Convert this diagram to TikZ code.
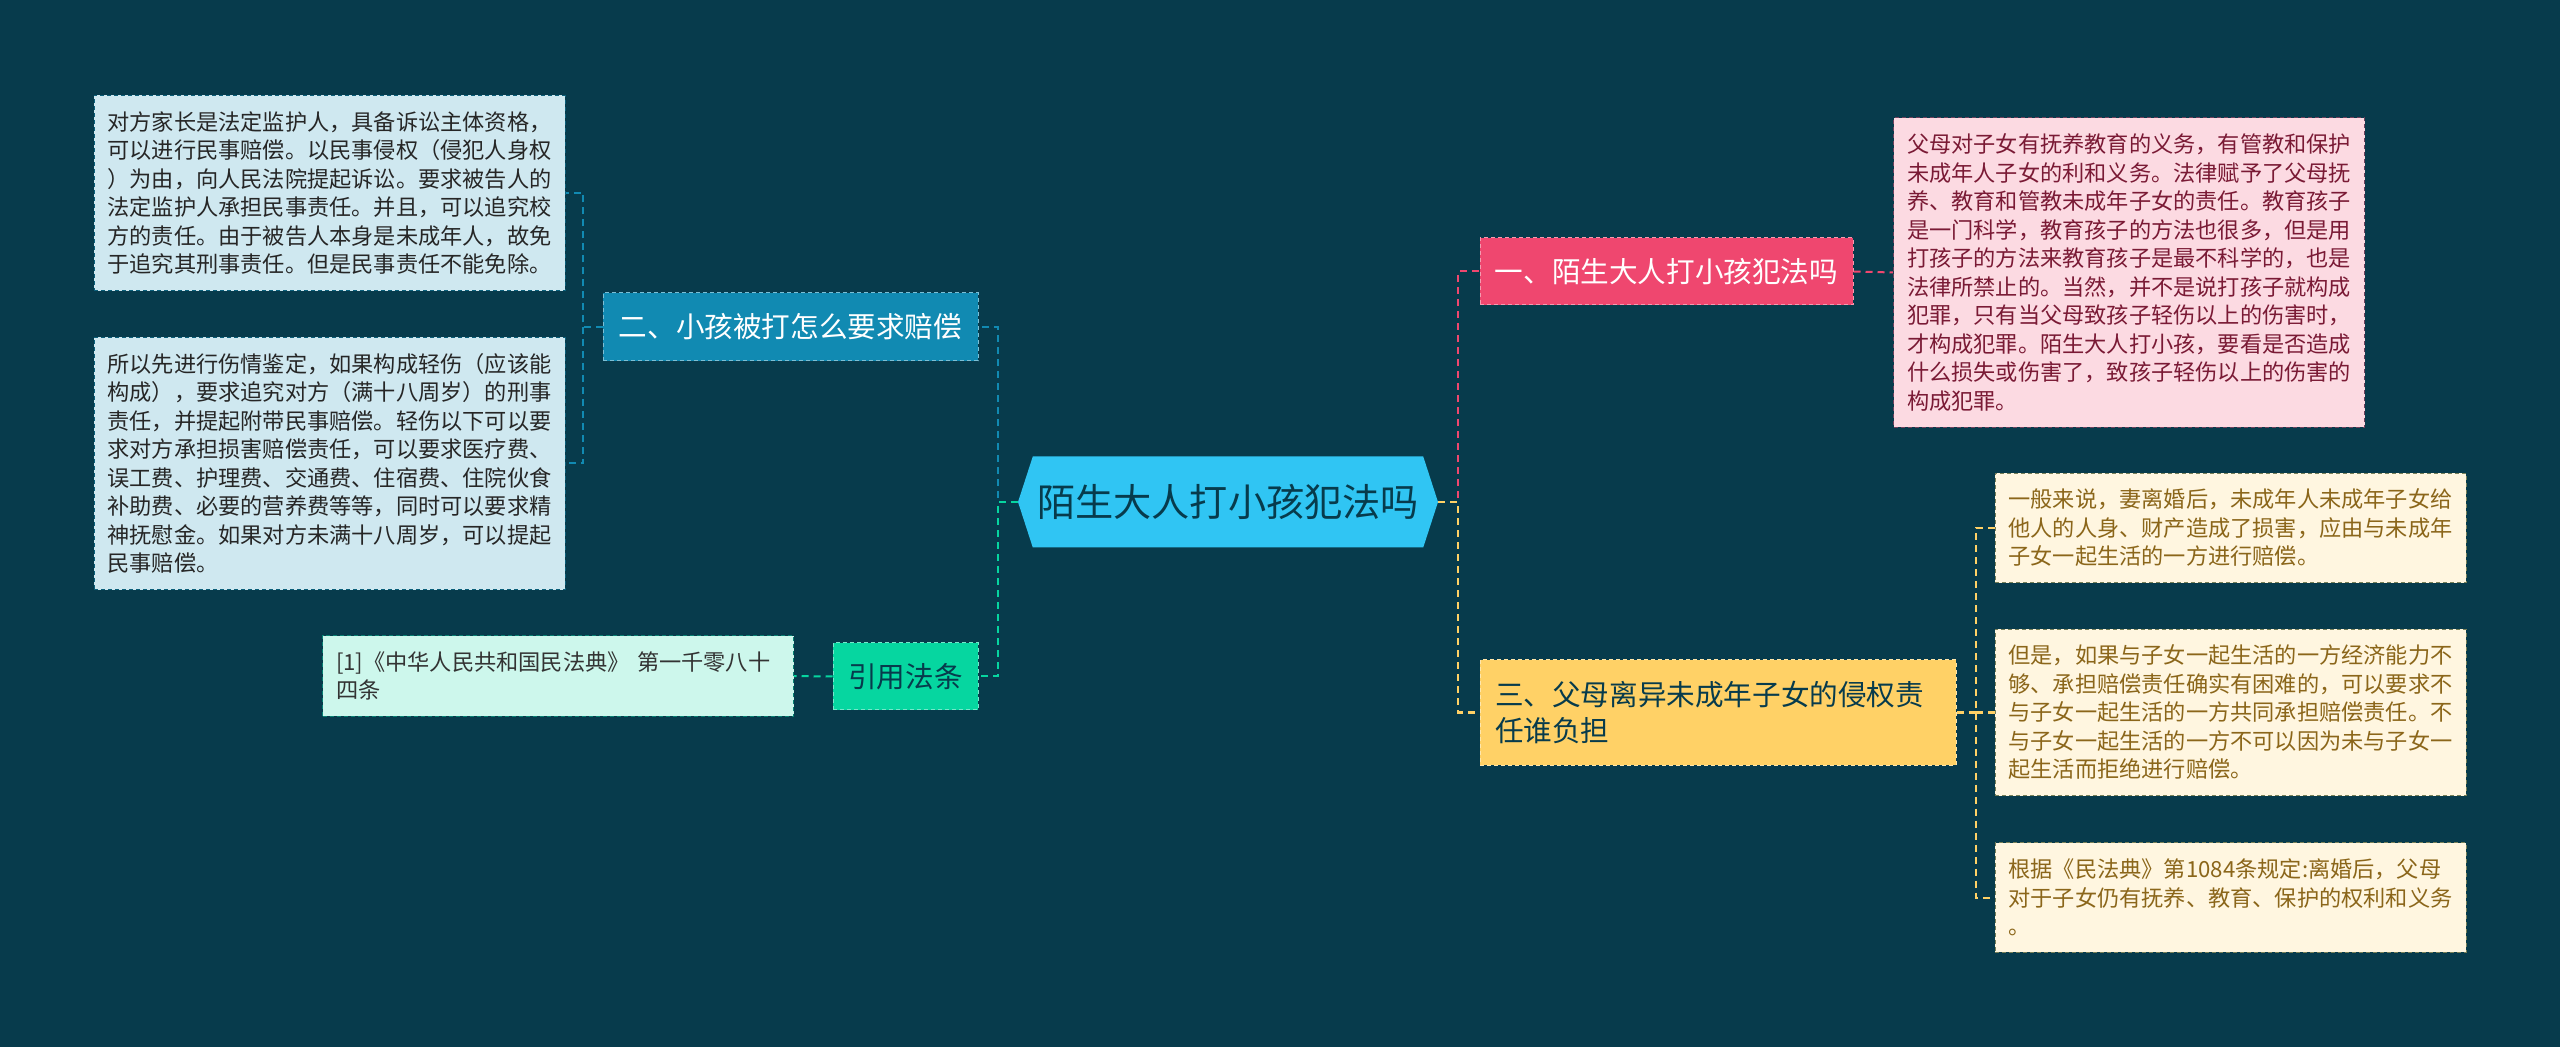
\documentclass[tikz,border=0pt]{standalone}
\usepackage{fontspec}
\setmainfont{Noto Sans CJK SC}
\usepackage{tikz}
\usetikzlibrary{shapes.symbols}
\definecolor{bgteal}{HTML}{073B4C}
\definecolor{rootblue}{HTML}{30C5F3}
\definecolor{steel}{HTML}{118AB2}
\definecolor{mint}{HTML}{06D6A0}
\definecolor{rose}{HTML}{EF476F}
\definecolor{sun}{HTML}{FFD166}
\definecolor{wine}{HTML}{7A1A35}
\definecolor{ochre}{HTML}{8B661A}

\begin{document}
\begin{tikzpicture}[x=0.5pt,y=-0.5pt,
    topic/.style={rectangle, fill=#1, draw=#1!55!white, line width=0.5pt,
      dash pattern=on 2pt off 1.5pt, inner sep=0pt,
      font=\fontsize{14.3pt}{18.3pt}\selectfont},
    note/.style={rectangle, fill=#1!20, draw=#1!45!bgteal, line width=0.5pt,
      dash pattern=on 2pt off 1.5pt, text width=222pt, align=left,
      inner xsep=6.75pt, inner ysep=8pt,
      font=\fontsize{11.1pt}{14.25pt}\selectfont},
    link/.style={draw=#1, line width=1pt, dash pattern=on 3.5pt off 2.5pt}]
    % Background
    \useasboundingbox (0,0) rectangle (2560,1047);
    \fill[bgteal] (0,0) rectangle (2560,1047);
    % Central topic
    \node[signal, signal to=west and east, signal pointer angle=144,
      fill=rootblue, minimum width=210pt, minimum height=45.5pt, inner sep=0pt,
      text=bgteal, font=\fontsize{19.1pt}{22pt}\selectfont]
      (root) at (1228,502) {陌生大人打小孩犯法吗};
    % Main branches
    \node[topic=steel, text=white, minimum width=187.5pt, minimum height=34pt]
      (ask) at (790.5,327) {二、小孩被打怎么要求赔偿};
    \node[topic=mint, text=bgteal, minimum width=72.5pt, minimum height=33.5pt]
      (law) at (905.5,676.5) {引用法条};
    \node[topic=rose, text=white, minimum width=186.5pt, minimum height=33.5pt]
      (crime) at (1666.5,271.5) {一、陌生大人打小孩犯法吗};
    \node[topic=sun, text=bgteal, minimum width=238pt, minimum height=52.5pt,
      text width=223pt, align=left]
      (duty) at (1718,712.5) {三、父母离异未成年子女的侵权责\\任谁负担};
    % Detail notes
    \node[note=steel, text=black!85] (askA) at (329.5,193) {对方家长是法定监护人，具备诉讼主体资格，\\可以进行民事赔偿。以民事侵权（侵犯人身权\\）为由，向人民法院提起诉讼。要求被告人的\\法定监护人承担民事责任。并且，可以追究校\\方的责任。由于被告人本身是未成年人，故免\\于追究其刑事责任。但是民事责任不能免除。};
    \node[note=steel, text=black!85] (askB) at (329.5,463.5) {所以先进行伤情鉴定，如果构成轻伤（应该能\\构成），要求追究对方（满十八周岁）的刑事\\责任，并提起附带民事赔偿。轻伤以下可以要\\求对方承担损害赔偿责任，可以要求医疗费、\\误工费、护理费、交通费、住宿费、住院伙食\\补助费、必要的营养费等等，同时可以要求精\\神抚慰金。如果对方未满十八周岁，可以提起\\民事赔偿。};
    \node[note=mint, text=black!80] (lawA) at (558,676) {[1]《中华人民共和国民法典》~第一千零八十\\四条};
    \node[note=rose, text=wine] (crimeA) at (2129,272.5) {父母对子女有抚养教育的义务，有管教和保护\\未成年人子女的利和义务。法律赋予了父母抚\\养、教育和管教未成年子女的责任。教育孩子\\是一门科学，教育孩子的方法也很多，但是用\\打孩子的方法来教育孩子是最不科学的，也是\\法律所禁止的。当然，并不是说打孩子就构成\\犯罪，只有当父母致孩子轻伤以上的伤害时，\\才构成犯罪。陌生大人打小孩，要看是否造成\\什么损失或伤害了，致孩子轻伤以上的伤害的\\构成犯罪。};
    \node[note=sun, text=ochre] (dutyA) at (2230.5,528) {一般来说，妻离婚后，未成年人未成年子女给\\他人的人身、财产造成了损害，应由与未成年\\子女一起生活的一方进行赔偿。};
    \node[note=sun, text=ochre] (dutyB) at (2230.5,712.5) {但是，如果与子女一起生活的一方经济能力不\\够、承担赔偿责任确实有困难的，可以要求不\\与子女一起生活的一方共同承担赔偿责任。不\\与子女一起生活的一方不可以因为未与子女一\\起生活而拒绝进行赔偿。};
    \node[note=sun, text=ochre] (dutyC) at (2230.5,897.5) {根据《民法典》第1084条规定:离婚后，父母\\对于子女仍有抚养、教育、保护的权利和义务\\。};
    % Trunk points
    \coordinate (lt) at (998,502);
    \coordinate (rt) at (1458,502);
    \coordinate (askT) at (583,327);
    \coordinate (dutyT) at (1976,712.5);
    % Connectors
    \draw[link=steel] (root.west) -- (lt) |- (ask.east);
    \draw[link=mint] (root.west) -- (lt) |- (law.east);
    \draw[link=rose] (root.east) -- (rt) |- (crime.west);
    \draw[link=sun] (root.east) -- (rt) |- (duty.west);
    \draw[link=steel] (ask.west) -- (askT) |- (askA.east);
    \draw[link=steel] (askT) |- (askB.east);
    \draw[link=mint] (law.west) -- (lawA.east);
    \draw[link=rose] (crime.east) -- (crimeA.west);
    \draw[link=sun] (duty.east) -- (dutyT) |- (dutyA.west);
    \draw[link=sun] (dutyT) |- (dutyB.west);
    \draw[link=sun] (dutyT) |- (dutyC.west);
\end{tikzpicture}
\end{document}
